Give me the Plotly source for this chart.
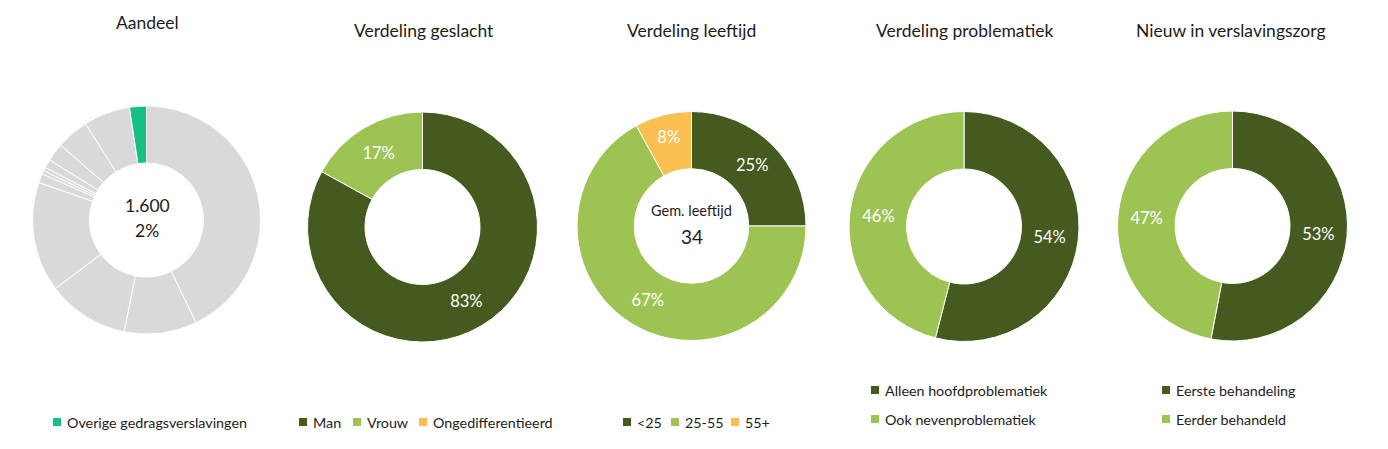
import plotly.graph_objects as go

W, H = 1388, 449

# ---------------- data ----------------
aandeel_labels = ["Categorie 1", "Categorie 2", "Categorie 3", "Categorie 4", "Categorie 5",
                  "Categorie 6", "Categorie 7", "Categorie 8", "Categorie 9", "Categorie 10",
                  "Categorie 11", "Overige gedragsverslavingen"]
aandeel_values = [42.9, 10.3, 11.6, 15.6, 1.3, 0.5, 0.5, 1.2, 2.6, 4.6, 6.6, 2.4]
aandeel_total = "1.600"
aandeel_pct = "2%"

geslacht_labels = ["Man", "Vrouw", "Ongedifferentieerd"]
geslacht_values = [83, 17, 0]

leeftijd_labels = ["<25", "25-55", "55+"]
leeftijd_values = [25, 67, 8]
gem_leeftijd = "34"

problematiek_labels = ["Alleen hoofdproblematiek", "Ook nevenproblematiek"]
problematiek_values = [54, 46]

nieuw_labels = ["Eerste behandeling", "Eerder behandeld"]
nieuw_values = [53, 47]

titles = ["Aandeel", "Verdeling geslacht", "Verdeling leeftijd",
          "Verdeling problematiek", "Nieuw in verslavingszorg"]

# ---------------- style ----------------
DARK = "#445A1E"
LIGHT = "#9DC453"
ORANGE = "#FBBE50"
GRAY = "#D9D9D9"
TEAL = "#14C183"
FONT = "Lato"
TXT = "#1c1c1c"

def xp(px):
    return px / W

def yp(py):
    return 1 - py / H

def domain(cx, cy, r):
    return dict(x=[xp(cx - r), xp(cx + r)], y=[yp(cy + r), yp(cy - r)])

def pct_text(vals):
    return [f"{v:.0f}%" if v > 0 else "" for v in vals]

fig = go.Figure()

common = dict(hole=0.5, sort=False, direction="clockwise", rotation=0,
              showlegend=False, hoverinfo="label+percent",
              insidetextorientation="horizontal",
              textfont=dict(family=FONT, size=16.5, color="white"))

aandeel_colors = [GRAY] * (len(aandeel_values) - 1) + [TEAL]
fig.add_trace(go.Pie(labels=aandeel_labels, values=aandeel_values,
                     marker=dict(colors=aandeel_colors, line=dict(color="white", width=1)),
                     textinfo="none", domain=domain(146.5, 220, 114), **common))

fig.add_trace(go.Pie(labels=geslacht_labels, values=geslacht_values,
                     text=pct_text(geslacht_values), textinfo="text", textposition="inside",
                     marker=dict(colors=[DARK, LIGHT, ORANGE], line=dict(color="white", width=1)),
                     domain=domain(422.5, 227, 115), **common))

fig.add_trace(go.Pie(labels=leeftijd_labels, values=leeftijd_values,
                     text=pct_text(leeftijd_values), textinfo="text", textposition="inside",
                     marker=dict(colors=[DARK, LIGHT, ORANGE], line=dict(color="white", width=1)),
                     domain=domain(691.5, 226, 114.5), **common))

fig.add_trace(go.Pie(labels=problematiek_labels, values=problematiek_values,
                     text=pct_text(problematiek_values), textinfo="text", textposition="inside",
                     marker=dict(colors=[DARK, LIGHT], line=dict(color="white", width=1)),
                     domain=domain(964, 226.5, 115), **common))

fig.add_trace(go.Pie(labels=nieuw_labels, values=nieuw_values,
                     text=pct_text(nieuw_values), textinfo="text", textposition="inside",
                     marker=dict(colors=[DARK, LIGHT], line=dict(color="white", width=1)),
                     domain=domain(1232.5, 226, 115), **common))

annotations = []
shapes = []

def text(x, y, s, size, anchor="center", color=TXT):
    annotations.append(dict(x=xp(x), y=yp(y), xref="paper", yref="paper", text=s,
                            showarrow=False, xanchor=anchor, yanchor="middle",
                            font=dict(family=FONT, size=size, color=color)))

# titles
title_pos = [(147, 22), (424, 31), (691, 31), (964, 31), (1231, 31)]
for t, (x, y) in zip(titles, title_pos):
    text(x, y, t, 17.5)

# center texts
text(147, 205, aandeel_total, 17.5)
text(147, 230, aandeel_pct, 17.5)
text(691.5, 210, "Gem. leeftijd", 14.5)
text(691.5, 237, gem_leeftijd, 19)

# legends
def legend_item(x, y, color, label):
    shapes.append(dict(type="rect", xref="paper", yref="paper",
                       x0=xp(x), x1=xp(x + 8), y0=yp(y + 4), y1=yp(y - 4),
                       fillcolor=color, line=dict(width=0)))
    text(x + 12, y, label, 14.3, anchor="left")

legend_item(53, 422, TEAL, aandeel_labels[-1])
for x, c, l in zip([299, 353, 419], [DARK, LIGHT, ORANGE], geslacht_labels):
    legend_item(x, 422, c, l)
for x, c, l in zip([623, 671, 731], [DARK, LIGHT, ORANGE], leeftijd_labels):
    legend_item(x, 422, c, l)
for y, c, l in zip([390, 419], [DARK, LIGHT], problematiek_labels):
    legend_item(871, y, c, l)
for y, c, l in zip([390, 419], [DARK, LIGHT], nieuw_labels):
    legend_item(1162, y, c, l)

fig.update_layout(width=W, height=H, autosize=False,
                  margin=dict(l=0, r=0, t=0, b=0),
                  paper_bgcolor="white", plot_bgcolor="white",
                  annotations=annotations, shapes=shapes,
                  font=dict(family=FONT, color=TXT))

fig.write_html("out.html")
